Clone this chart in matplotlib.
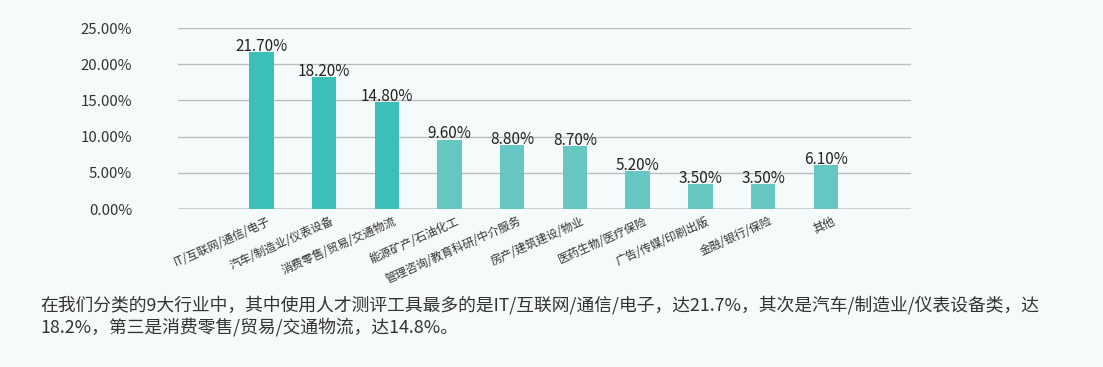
import matplotlib
matplotlib.use("Agg")
import matplotlib.pyplot as plt
import matplotlib.transforms as mtransforms

plt.rcParams['font.family'] = ['Noto Sans CJK SC', 'DejaVu Sans']

categories = ["IT/互联网/通信/电子", "汽车/制造业/仪表设备", "消费零售/贸易/交通物流",
              "能源矿产/石油化工", "管理咨询/教育科研/中介服务", "房产/建筑建设/物业",
              "医药生物/医疗保险", "广告/传媒/印刷出版", "金融/银行/保险", "其他"]
values = [21.7, 18.2, 14.8, 9.6, 8.8, 8.7, 5.2, 3.5, 3.5, 6.1]
yticks = [0, 5, 10, 15, 20, 25]
caption = ("在我们分类的9大行业中，其中使用人才测评工具最多的是IT/互联网/通信/电子，达21.7%，其次是汽车/制造业/仪表设备类，达\n"
           "18.2%，第三是消费零售/贸易/交通物流，达14.8%。")

bg = "#f5fafa"
dark = "#3bbfb8"
light = "#66c7c2"

fig = plt.figure(figsize=(11.03, 3.67), dpi=100, facecolor=bg)
ax = fig.add_axes([0.1614, 0.4305, 0.6646, 0.4932])
ax.set_facecolor(bg)

colors = [dark if i < 3 else light for i in range(len(values))]
x = list(range(len(values)))
ax.bar(x, values, width=0.39, color=colors, zorder=3)

for xi, v in zip(x, values):
    ax.text(xi, v - 0.4, "%.2f%%" % v, ha="center", va="bottom",
            fontsize=11, color="#222222", zorder=4)

ax.set_xlim(-1.33, 10.36)
ax.set_ylim(0, 25)
ax.set_yticks(yticks)
ax.set_yticklabels(["%.2f%%" % t for t in yticks], fontsize=10.8, color="#333333")
ax.tick_params(axis="y", length=0, pad=33)
ax.yaxis.grid(True, color="#b9bdbd", linewidth=1, zorder=0)
ax.axhline(0, color="#c9cdcd", linewidth=2, zorder=2)

ax.set_xticks(x)
ax.set_xticklabels(categories, rotation=24, ha="right", rotation_mode="anchor",
                   fontsize=8.3, color="#333333")
ax.tick_params(axis="x", length=0, pad=4)
offset = mtransforms.ScaledTranslation(0.06, 0, fig.dpi_scale_trans)
for lab in ax.get_xticklabels():
    lab.set_transform(lab.get_transform() + offset)

for s in ax.spines.values():
    s.set_visible(False)

fig.text(40 / 1103, 1 - 316 / 367, caption, ha="left", va="center",
         fontsize=12.8, color="#333333", linespacing=1.25)

fig.savefig("out.png", dpi=100, facecolor=bg)
